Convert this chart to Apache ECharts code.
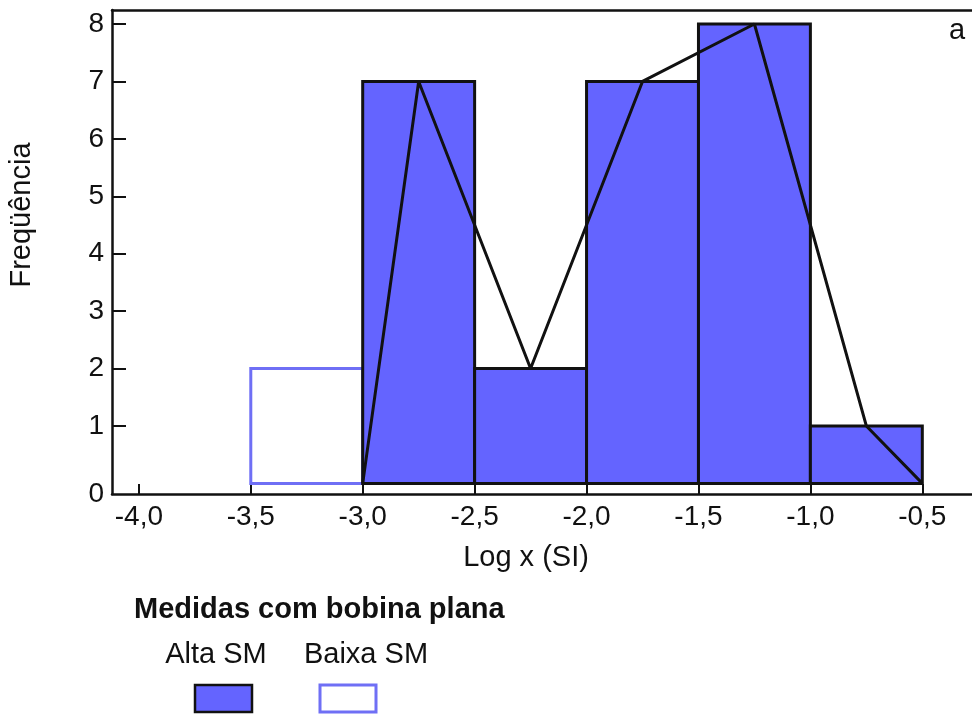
<!DOCTYPE html>
<html>
<head>
<meta charset="utf-8">
<script src="https://cdn.jsdelivr.net/npm/echarts@6/dist/echarts.min.js"></script>
<style>html,body{margin:0;padding:0;background:#fff}#chart{width:972px;height:718px}</style>
</head>
<body>
<div id="chart"></div>
<script>
// Histogram bins (Log x, SI), bin width 0.5
const binStarts = [-3.5, -3.0, -2.5, -2.0, -1.5, -1.0];
const binWidth = 0.5;
const altaCounts = [0, 7, 2, 7, 8, 1];
const baixaCounts = [2, 0, 0, 0, 0, 0];
// Frequency polygon (Alta SM)
const polyX = [-3.0, -2.75, -2.25, -1.75, -1.25, -0.75, -0.5];
const polyY = [0, 7, 2, 7, 8, 1, 0];
// Axis ticks
const xTicks = [-4.0, -3.5, -3.0, -2.5, -2.0, -1.5, -1.0, -0.5];
const yTicks = [1, 2, 3, 4, 5, 6, 7, 8];

const X_MIN = -4.12, X_MAX = -0.278, Y_MIN = -0.185, Y_MAX = 8.244;
const FONT = 'Liberation Sans, Arial, sans-serif';
const BLUE = '#6464ff';

function binData(counts) {
  const out = [];
  binStarts.forEach((s, i) => { if (counts[i] > 0) out.push([s, s + binWidth, counts[i]]); });
  return out;
}
function rectRender(fill, stroke, lw) {
  return function (params, api) {
    const p0 = api.coord([api.value(0), 0]);
    const p1 = api.coord([api.value(1), api.value(2)]);
    return {
      type: 'rect',
      shape: { x: p0[0], y: p1[1], width: p1[0] - p0[0], height: p0[1] - p1[1] },
      style: { fill: fill, stroke: stroke, lineWidth: lw }
    };
  };
}

const chart = echarts.init(document.getElementById('chart'), null, { renderer: 'canvas' });
chart.setOption({
  animation: false,
  backgroundColor: '#fff',
  grid: { left: 112, right: 0, top: 10, bottom: 224, containLabel: false },
  xAxis: [{
    type: 'value', min: X_MIN, max: X_MAX,
    axisLine: { onZero: false, lineStyle: { color: '#111', width: 2.5 } },
    axisTick: { inside: true, length: 10, lineStyle: { color: '#111', width: 2 }, customValues: xTicks },
    axisLabel: { customValues: xTicks, margin: 9, color: '#111', fontFamily: FONT, fontSize: 28,
      formatter: v => v.toFixed(1).replace('.', ',') },
    splitLine: { show: false }
  }, {
    type: 'value', position: 'top', min: X_MIN, max: X_MAX,
    axisLine: { show: true, onZero: false, lineStyle: { color: '#111', width: 2.5 } },
    axisTick: { show: false }, axisLabel: { show: false }, splitLine: { show: false }
  }],
  yAxis: {
    type: 'value', min: Y_MIN, max: Y_MAX,
    axisLine: { show: true, onZero: false, lineStyle: { color: '#111', width: 2.5 } },
    axisTick: { inside: true, length: 14, lineStyle: { color: '#111', width: 2 }, customValues: yTicks },
    axisLabel: { customValues: [Y_MIN].concat(yTicks), margin: 8, color: '#111', fontFamily: FONT, fontSize: 28,
      formatter: v => (v < 0.5 ? '0' : String(Math.round(v))) },
    splitLine: { show: false }
  },
  series: [{
    name: 'Baixa SM', type: 'custom', renderItem: rectRender('#fff', '#6f6ff5', 3),
    data: binData(baixaCounts), encode: { x: [0, 1], y: 2 }, z: 2
  }, {
    name: 'Alta SM', type: 'custom', renderItem: rectRender(BLUE, '#111', 3),
    data: binData(altaCounts), encode: { x: [0, 1], y: 2 }, z: 3
  }, {
    name: 'Polígono', type: 'line', data: polyX.map((x, i) => [x, polyY[i]]),
    showSymbol: false, symbol: 'none', lineStyle: { color: '#111', width: 3 }, z: 4
  }],
  graphic: [
    { type: 'text', x: 22, y: 215, rotation: Math.PI / 2,
      style: { text: 'Freqüência', fontFamily: FONT, fontSize: 29, fill: '#111', align: 'center', verticalAlign: 'middle' } },
    { type: 'text', x: 526, y: 558,
      style: { text: 'Log x (SI)', fontFamily: FONT, fontSize: 29, fill: '#111', align: 'center', verticalAlign: 'middle' } },
    { type: 'text', x: 957, y: 31,
      style: { text: 'a', fontFamily: FONT, fontSize: 29, fill: '#111', align: 'center', verticalAlign: 'middle' } },
    { type: 'text', x: 134, y: 610,
      style: { text: 'Medidas com bobina plana', fontFamily: FONT, fontSize: 29, fontWeight: 'bold', fill: '#111', align: 'left', verticalAlign: 'middle' } },
    { type: 'text', x: 216, y: 655,
      style: { text: 'Alta SM', fontFamily: FONT, fontSize: 29, fill: '#111', align: 'center', verticalAlign: 'middle' } },
    { type: 'text', x: 366, y: 655,
      style: { text: 'Baixa SM', fontFamily: FONT, fontSize: 29, fill: '#111', align: 'center', verticalAlign: 'middle' } },
    { type: 'rect', shape: { x: 195, y: 685, width: 57, height: 27 },
      style: { fill: BLUE, stroke: '#111', lineWidth: 2.5 } },
    { type: 'rect', shape: { x: 320, y: 685, width: 56, height: 27 },
      style: { fill: '#fff', stroke: '#6f6ff5', lineWidth: 3 } }
  ]
});
</script>
</body>
</html>
